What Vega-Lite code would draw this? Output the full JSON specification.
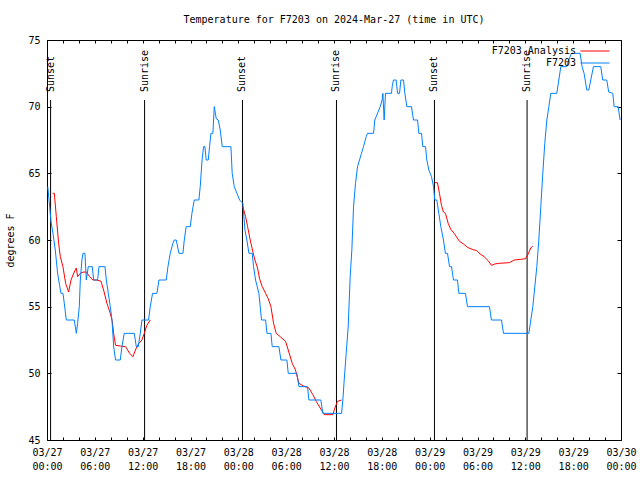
{
  "$schema": "https://vega.github.io/schema/vega-lite/v6.json",
  "width": 574,
  "height": 400,
  "autosize": "none",
  "padding": {"left": 47, "top": 40, "right": 19, "bottom": 40},
  "background": "white",
  "title": {"text": "Temperature for F7203 on 2024-Mar-27 (time in UTC)", "font": "DejaVu Sans Mono", "fontSize": 10, "fontWeight": "normal", "color": "black", "offset": 10, "anchor": "middle"},
  "config": {
    "view": {"stroke": "black", "strokeWidth": 1},
    "axis": {"grid": false, "domainColor": "black", "tickColor": "black", "labelColor": "black", "titleColor": "black", "labelFont": "DejaVu Sans Mono", "labelFontSize": 10, "titleFont": "DejaVu Sans Mono", "titleFontSize": 10, "titleFontWeight": "normal", "tickSize": -3, "labelFlush": false, "labelOverlap": false},
    "legend": {"orient": "none", "legendX": 543, "legendY": 6, "symbolType": "M-6,0H6", "symbolSize": 23.4, "symbolStrokeWidth": 1, "labelAlign": "right", "labelOffset": -24, "labelFont": "DejaVu Sans Mono", "labelFontSize": 10, "labelColor": "black", "rowPadding": 2, "padding": 0}
  },
  "datasets": {
    "temps": [
      {"series": "F7203 Analysis", "seg": 1, "hour": 0.71, "temp": 63.5},
      {"series": "F7203 Analysis", "seg": 1, "hour": 0.92, "temp": 63.5},
      {"series": "F7203 Analysis", "seg": 1, "hour": 1.17, "temp": 61.75},
      {"series": "F7203 Analysis", "seg": 1, "hour": 1.46, "temp": 59.75},
      {"series": "F7203 Analysis", "seg": 1, "hour": 1.67, "temp": 58.75},
      {"series": "F7203 Analysis", "seg": 1, "hour": 2.0, "temp": 58},
      {"series": "F7203 Analysis", "seg": 1, "hour": 2.34, "temp": 56.75},
      {"series": "F7203 Analysis", "seg": 1, "hour": 2.71, "temp": 56.1},
      {"series": "F7203 Analysis", "seg": 1, "hour": 3.01, "temp": 57},
      {"series": "F7203 Analysis", "seg": 1, "hour": 3.42, "temp": 57.6},
      {"series": "F7203 Analysis", "seg": 1, "hour": 3.68, "temp": 57.9},
      {"series": "F7203 Analysis", "seg": 1, "hour": 3.84, "temp": 57.25},
      {"series": "F7203 Analysis", "seg": 1, "hour": 4.18, "temp": 57.5},
      {"series": "F7203 Analysis", "seg": 1, "hour": 4.59, "temp": 57.6},
      {"series": "F7203 Analysis", "seg": 1, "hour": 4.93, "temp": 57.6},
      {"series": "F7203 Analysis", "seg": 1, "hour": 5.35, "temp": 57.25},
      {"series": "F7203 Analysis", "seg": 1, "hour": 5.76, "temp": 57},
      {"series": "F7203 Analysis", "seg": 1, "hour": 6.26, "temp": 57},
      {"series": "F7203 Analysis", "seg": 1, "hour": 6.77, "temp": 56.9},
      {"series": "F7203 Analysis", "seg": 1, "hour": 7.1, "temp": 56.25},
      {"series": "F7203 Analysis", "seg": 1, "hour": 7.52, "temp": 55.25},
      {"series": "F7203 Analysis", "seg": 1, "hour": 7.94, "temp": 54.5},
      {"series": "F7203 Analysis", "seg": 1, "hour": 8.19, "temp": 53.9},
      {"series": "F7203 Analysis", "seg": 1, "hour": 8.36, "temp": 53},
      {"series": "F7203 Analysis", "seg": 1, "hour": 8.6, "temp": 52.1},
      {"series": "F7203 Analysis", "seg": 1, "hour": 9.19, "temp": 52.05},
      {"series": "F7203 Analysis", "seg": 1, "hour": 9.86, "temp": 52},
      {"series": "F7203 Analysis", "seg": 1, "hour": 10.36, "temp": 51.5},
      {"series": "F7203 Analysis", "seg": 1, "hour": 10.78, "temp": 51.25},
      {"series": "F7203 Analysis", "seg": 1, "hour": 11.2, "temp": 51.9},
      {"series": "F7203 Analysis", "seg": 1, "hour": 11.53, "temp": 52.25},
      {"series": "F7203 Analysis", "seg": 1, "hour": 11.91, "temp": 52.5},
      {"series": "F7203 Analysis", "seg": 1, "hour": 12.2, "temp": 53},
      {"series": "F7203 Analysis", "seg": 1, "hour": 12.53, "temp": 53.6},
      {"series": "F7203 Analysis", "seg": 1, "hour": 12.95, "temp": 54},
      {"series": "F7203 Analysis", "seg": 2, "hour": 24.57, "temp": 62.5},
      {"series": "F7203 Analysis", "seg": 2, "hour": 24.91, "temp": 61.75},
      {"series": "F7203 Analysis", "seg": 2, "hour": 25.16, "temp": 61},
      {"series": "F7203 Analysis", "seg": 2, "hour": 25.49, "temp": 60},
      {"series": "F7203 Analysis", "seg": 2, "hour": 25.83, "temp": 59.1},
      {"series": "F7203 Analysis", "seg": 2, "hour": 26.08, "temp": 58.5},
      {"series": "F7203 Analysis", "seg": 2, "hour": 26.41, "temp": 57.9},
      {"series": "F7203 Analysis", "seg": 2, "hour": 26.66, "temp": 57.1},
      {"series": "F7203 Analysis", "seg": 2, "hour": 27.0, "temp": 56.5},
      {"series": "F7203 Analysis", "seg": 2, "hour": 27.42, "temp": 56},
      {"series": "F7203 Analysis", "seg": 2, "hour": 27.75, "temp": 55.6},
      {"series": "F7203 Analysis", "seg": 2, "hour": 28.09, "temp": 55},
      {"series": "F7203 Analysis", "seg": 2, "hour": 28.42, "temp": 53.75},
      {"series": "F7203 Analysis", "seg": 2, "hour": 28.75, "temp": 53},
      {"series": "F7203 Analysis", "seg": 2, "hour": 29.26, "temp": 52.75},
      {"series": "F7203 Analysis", "seg": 2, "hour": 29.92, "temp": 52.4},
      {"series": "F7203 Analysis", "seg": 2, "hour": 30.26, "temp": 51.75},
      {"series": "F7203 Analysis", "seg": 2, "hour": 30.76, "temp": 50.75},
      {"series": "F7203 Analysis", "seg": 2, "hour": 31.17, "temp": 50.25},
      {"series": "F7203 Analysis", "seg": 2, "hour": 31.6, "temp": 49.25},
      {"series": "F7203 Analysis", "seg": 2, "hour": 32.18, "temp": 49.05},
      {"series": "F7203 Analysis", "seg": 2, "hour": 32.85, "temp": 48.9},
      {"series": "F7203 Analysis", "seg": 2, "hour": 33.35, "temp": 48.4},
      {"series": "F7203 Analysis", "seg": 2, "hour": 33.77, "temp": 47.9},
      {"series": "F7203 Analysis", "seg": 2, "hour": 34.27, "temp": 47.4},
      {"series": "F7203 Analysis", "seg": 2, "hour": 34.77, "temp": 46.9},
      {"series": "F7203 Analysis", "seg": 2, "hour": 35.86, "temp": 46.9},
      {"series": "F7203 Analysis", "seg": 2, "hour": 36.11, "temp": 47.4},
      {"series": "F7203 Analysis", "seg": 2, "hour": 36.44, "temp": 47.9},
      {"series": "F7203 Analysis", "seg": 2, "hour": 36.95, "temp": 48},
      {"series": "F7203 Analysis", "seg": 3, "hour": 48.65, "temp": 64.3},
      {"series": "F7203 Analysis", "seg": 3, "hour": 48.98, "temp": 64.3},
      {"series": "F7203 Analysis", "seg": 3, "hour": 49.23, "temp": 63.5},
      {"series": "F7203 Analysis", "seg": 3, "hour": 49.48, "temp": 62.6},
      {"series": "F7203 Analysis", "seg": 3, "hour": 49.73, "temp": 62.1},
      {"series": "F7203 Analysis", "seg": 3, "hour": 49.98, "temp": 62},
      {"series": "F7203 Analysis", "seg": 3, "hour": 50.32, "temp": 61.25},
      {"series": "F7203 Analysis", "seg": 3, "hour": 50.65, "temp": 60.8},
      {"series": "F7203 Analysis", "seg": 3, "hour": 51.07, "temp": 60.5},
      {"series": "F7203 Analysis", "seg": 3, "hour": 51.74, "temp": 59.9},
      {"series": "F7203 Analysis", "seg": 3, "hour": 52.24, "temp": 59.7},
      {"series": "F7203 Analysis", "seg": 3, "hour": 52.74, "temp": 59.45},
      {"series": "F7203 Analysis", "seg": 3, "hour": 53.33, "temp": 59.3},
      {"series": "F7203 Analysis", "seg": 3, "hour": 53.91, "temp": 59.2},
      {"series": "F7203 Analysis", "seg": 3, "hour": 54.33, "temp": 58.95},
      {"series": "F7203 Analysis", "seg": 3, "hour": 54.83, "temp": 58.75},
      {"series": "F7203 Analysis", "seg": 3, "hour": 55.34, "temp": 58.45},
      {"series": "F7203 Analysis", "seg": 3, "hour": 55.75, "temp": 58.1},
      {"series": "F7203 Analysis", "seg": 3, "hour": 56.17, "temp": 58.2},
      {"series": "F7203 Analysis", "seg": 3, "hour": 56.67, "temp": 58.25},
      {"series": "F7203 Analysis", "seg": 3, "hour": 58.01, "temp": 58.3},
      {"series": "F7203 Analysis", "seg": 3, "hour": 58.6, "temp": 58.5},
      {"series": "F7203 Analysis", "seg": 3, "hour": 59.43, "temp": 58.55},
      {"series": "F7203 Analysis", "seg": 3, "hour": 60.02, "temp": 58.6},
      {"series": "F7203 Analysis", "seg": 3, "hour": 60.35, "temp": 58.95},
      {"series": "F7203 Analysis", "seg": 3, "hour": 60.68, "temp": 59.4},
      {"series": "F7203 Analysis", "seg": 3, "hour": 60.93, "temp": 59.55},
      {"series": "F7203", "seg": 0, "hour": 0.1, "temp": 64},
      {"series": "F7203", "seg": 0, "hour": 0.33, "temp": 62.5},
      {"series": "F7203", "seg": 0, "hour": 0.5, "temp": 61.4},
      {"series": "F7203", "seg": 0, "hour": 0.75, "temp": 60.5},
      {"series": "F7203", "seg": 0, "hour": 1.04, "temp": 59.25},
      {"series": "F7203", "seg": 0, "hour": 1.33, "temp": 57.5},
      {"series": "F7203", "seg": 0, "hour": 1.58, "temp": 56.6},
      {"series": "F7203", "seg": 0, "hour": 1.75, "temp": 56},
      {"series": "F7203", "seg": 0, "hour": 2.0, "temp": 56},
      {"series": "F7203", "seg": 0, "hour": 2.17, "temp": 55.25},
      {"series": "F7203", "seg": 0, "hour": 2.42, "temp": 54},
      {"series": "F7203", "seg": 0, "hour": 3.42, "temp": 54},
      {"series": "F7203", "seg": 0, "hour": 3.68, "temp": 53},
      {"series": "F7203", "seg": 0, "hour": 3.84, "temp": 53.75},
      {"series": "F7203", "seg": 0, "hour": 4.05, "temp": 55},
      {"series": "F7203", "seg": 0, "hour": 4.18, "temp": 57},
      {"series": "F7203", "seg": 0, "hour": 4.38, "temp": 58.5},
      {"series": "F7203", "seg": 0, "hour": 4.51, "temp": 59},
      {"series": "F7203", "seg": 0, "hour": 4.76, "temp": 59},
      {"series": "F7203", "seg": 0, "hour": 4.93, "temp": 57},
      {"series": "F7203", "seg": 0, "hour": 5.18, "temp": 58},
      {"series": "F7203", "seg": 0, "hour": 5.68, "temp": 58},
      {"series": "F7203", "seg": 0, "hour": 5.85, "temp": 57},
      {"series": "F7203", "seg": 0, "hour": 6.35, "temp": 57},
      {"series": "F7203", "seg": 0, "hour": 6.52, "temp": 58},
      {"series": "F7203", "seg": 0, "hour": 7.27, "temp": 58},
      {"series": "F7203", "seg": 0, "hour": 7.44, "temp": 57},
      {"series": "F7203", "seg": 0, "hour": 7.69, "temp": 56},
      {"series": "F7203", "seg": 0, "hour": 7.94, "temp": 55},
      {"series": "F7203", "seg": 0, "hour": 8.15, "temp": 54},
      {"series": "F7203", "seg": 0, "hour": 8.36, "temp": 52},
      {"series": "F7203", "seg": 0, "hour": 8.6, "temp": 51},
      {"series": "F7203", "seg": 0, "hour": 9.19, "temp": 51},
      {"series": "F7203", "seg": 0, "hour": 9.4, "temp": 52},
      {"series": "F7203", "seg": 0, "hour": 9.69, "temp": 53},
      {"series": "F7203", "seg": 0, "hour": 10.95, "temp": 53},
      {"series": "F7203", "seg": 0, "hour": 11.2, "temp": 52},
      {"series": "F7203", "seg": 0, "hour": 11.45, "temp": 52},
      {"series": "F7203", "seg": 0, "hour": 11.7, "temp": 53},
      {"series": "F7203", "seg": 0, "hour": 11.91, "temp": 54},
      {"series": "F7203", "seg": 0, "hour": 12.74, "temp": 54},
      {"series": "F7203", "seg": 0, "hour": 12.95, "temp": 55},
      {"series": "F7203", "seg": 0, "hour": 13.24, "temp": 56},
      {"series": "F7203", "seg": 0, "hour": 13.79, "temp": 56},
      {"series": "F7203", "seg": 0, "hour": 14.04, "temp": 57},
      {"series": "F7203", "seg": 0, "hour": 14.96, "temp": 57},
      {"series": "F7203", "seg": 0, "hour": 15.17, "temp": 58},
      {"series": "F7203", "seg": 0, "hour": 15.46, "temp": 59},
      {"series": "F7203", "seg": 0, "hour": 15.79, "temp": 59.75},
      {"series": "F7203", "seg": 0, "hour": 15.96, "temp": 60},
      {"series": "F7203", "seg": 0, "hour": 16.21, "temp": 60},
      {"series": "F7203", "seg": 0, "hour": 16.55, "temp": 59},
      {"series": "F7203", "seg": 0, "hour": 17.05, "temp": 59},
      {"series": "F7203", "seg": 0, "hour": 17.22, "temp": 60},
      {"series": "F7203", "seg": 0, "hour": 17.46, "temp": 61},
      {"series": "F7203", "seg": 0, "hour": 17.97, "temp": 61},
      {"series": "F7203", "seg": 0, "hour": 18.18, "temp": 62},
      {"series": "F7203", "seg": 0, "hour": 18.47, "temp": 63},
      {"series": "F7203", "seg": 0, "hour": 19.05, "temp": 63},
      {"series": "F7203", "seg": 0, "hour": 19.22, "temp": 64},
      {"series": "F7203", "seg": 0, "hour": 19.45, "temp": 66},
      {"series": "F7203", "seg": 0, "hour": 19.64, "temp": 67},
      {"series": "F7203", "seg": 0, "hour": 19.81, "temp": 67},
      {"series": "F7203", "seg": 0, "hour": 19.97, "temp": 66},
      {"series": "F7203", "seg": 0, "hour": 20.23, "temp": 66},
      {"series": "F7203", "seg": 0, "hour": 20.39, "temp": 67},
      {"series": "F7203", "seg": 0, "hour": 20.56, "temp": 68},
      {"series": "F7203", "seg": 0, "hour": 20.81, "temp": 68},
      {"series": "F7203", "seg": 0, "hour": 20.98, "temp": 70},
      {"series": "F7203", "seg": 0, "hour": 21.23, "temp": 69.1},
      {"series": "F7203", "seg": 0, "hour": 21.48, "temp": 69},
      {"series": "F7203", "seg": 0, "hour": 21.73, "temp": 68.25},
      {"series": "F7203", "seg": 0, "hour": 21.98, "temp": 67},
      {"series": "F7203", "seg": 0, "hour": 23.07, "temp": 67},
      {"series": "F7203", "seg": 0, "hour": 23.23, "temp": 65},
      {"series": "F7203", "seg": 0, "hour": 23.49, "temp": 64},
      {"series": "F7203", "seg": 0, "hour": 23.82, "temp": 63.5},
      {"series": "F7203", "seg": 0, "hour": 24.16, "temp": 63},
      {"series": "F7203", "seg": 0, "hour": 24.57, "temp": 62.75},
      {"series": "F7203", "seg": 0, "hour": 24.83, "temp": 60.75},
      {"series": "F7203", "seg": 0, "hour": 25.07, "temp": 60},
      {"series": "F7203", "seg": 0, "hour": 25.33, "temp": 59},
      {"series": "F7203", "seg": 0, "hour": 25.74, "temp": 59},
      {"series": "F7203", "seg": 0, "hour": 25.91, "temp": 58},
      {"series": "F7203", "seg": 0, "hour": 26.16, "temp": 57},
      {"series": "F7203", "seg": 0, "hour": 26.58, "temp": 56},
      {"series": "F7203", "seg": 0, "hour": 26.91, "temp": 54},
      {"series": "F7203", "seg": 0, "hour": 27.42, "temp": 54},
      {"series": "F7203", "seg": 0, "hour": 27.59, "temp": 53},
      {"series": "F7203", "seg": 0, "hour": 28.09, "temp": 53},
      {"series": "F7203", "seg": 0, "hour": 28.25, "temp": 52},
      {"series": "F7203", "seg": 0, "hour": 29.09, "temp": 52},
      {"series": "F7203", "seg": 0, "hour": 29.34, "temp": 51},
      {"series": "F7203", "seg": 0, "hour": 30.09, "temp": 51},
      {"series": "F7203", "seg": 0, "hour": 30.26, "temp": 50},
      {"series": "F7203", "seg": 0, "hour": 31.34, "temp": 50},
      {"series": "F7203", "seg": 0, "hour": 31.6, "temp": 49},
      {"series": "F7203", "seg": 0, "hour": 32.68, "temp": 49},
      {"series": "F7203", "seg": 0, "hour": 32.85, "temp": 48},
      {"series": "F7203", "seg": 0, "hour": 34.35, "temp": 48},
      {"series": "F7203", "seg": 0, "hour": 34.6, "temp": 47},
      {"series": "F7203", "seg": 0, "hour": 36.95, "temp": 47},
      {"series": "F7203", "seg": 0, "hour": 37.11, "temp": 48},
      {"series": "F7203", "seg": 0, "hour": 37.28, "temp": 49.5},
      {"series": "F7203", "seg": 0, "hour": 37.53, "temp": 51.5},
      {"series": "F7203", "seg": 0, "hour": 37.78, "temp": 53.5},
      {"series": "F7203", "seg": 0, "hour": 38.03, "temp": 57.25},
      {"series": "F7203", "seg": 0, "hour": 38.24, "temp": 59.25},
      {"series": "F7203", "seg": 0, "hour": 38.45, "temp": 62.5},
      {"series": "F7203", "seg": 0, "hour": 38.7, "temp": 64.25},
      {"series": "F7203", "seg": 0, "hour": 38.95, "temp": 65.5},
      {"series": "F7203", "seg": 0, "hour": 39.2, "temp": 66},
      {"series": "F7203", "seg": 0, "hour": 39.45, "temp": 66.5},
      {"series": "F7203", "seg": 0, "hour": 39.7, "temp": 67},
      {"series": "F7203", "seg": 0, "hour": 40.04, "temp": 67.75},
      {"series": "F7203", "seg": 0, "hour": 40.2, "temp": 68},
      {"series": "F7203", "seg": 0, "hour": 40.96, "temp": 68},
      {"series": "F7203", "seg": 0, "hour": 41.12, "temp": 69},
      {"series": "F7203", "seg": 0, "hour": 41.79, "temp": 70},
      {"series": "F7203", "seg": 0, "hour": 42.04, "temp": 70.5},
      {"series": "F7203", "seg": 0, "hour": 42.13, "temp": 71},
      {"series": "F7203", "seg": 0, "hour": 42.29, "temp": 69},
      {"series": "F7203", "seg": 0, "hour": 42.46, "temp": 71},
      {"series": "F7203", "seg": 0, "hour": 43.21, "temp": 71},
      {"series": "F7203", "seg": 0, "hour": 43.3, "temp": 71.5},
      {"series": "F7203", "seg": 0, "hour": 43.46, "temp": 72},
      {"series": "F7203", "seg": 0, "hour": 43.8, "temp": 72},
      {"series": "F7203", "seg": 0, "hour": 43.97, "temp": 71},
      {"series": "F7203", "seg": 0, "hour": 44.22, "temp": 71},
      {"series": "F7203", "seg": 0, "hour": 44.39, "temp": 72},
      {"series": "F7203", "seg": 0, "hour": 44.72, "temp": 72},
      {"series": "F7203", "seg": 0, "hour": 44.89, "temp": 71},
      {"series": "F7203", "seg": 0, "hour": 45.14, "temp": 70},
      {"series": "F7203", "seg": 0, "hour": 45.72, "temp": 70},
      {"series": "F7203", "seg": 0, "hour": 45.97, "temp": 69},
      {"series": "F7203", "seg": 0, "hour": 46.48, "temp": 69},
      {"series": "F7203", "seg": 0, "hour": 46.64, "temp": 68},
      {"series": "F7203", "seg": 0, "hour": 46.98, "temp": 68},
      {"series": "F7203", "seg": 0, "hour": 47.14, "temp": 67},
      {"series": "F7203", "seg": 0, "hour": 47.48, "temp": 67},
      {"series": "F7203", "seg": 0, "hour": 47.64, "temp": 66},
      {"series": "F7203", "seg": 0, "hour": 47.9, "temp": 65.25},
      {"series": "F7203", "seg": 0, "hour": 48.23, "temp": 64.75},
      {"series": "F7203", "seg": 0, "hour": 48.48, "temp": 64},
      {"series": "F7203", "seg": 0, "hour": 48.65, "temp": 63},
      {"series": "F7203", "seg": 0, "hour": 48.9, "temp": 63},
      {"series": "F7203", "seg": 0, "hour": 49.15, "temp": 62},
      {"series": "F7203", "seg": 0, "hour": 49.4, "temp": 61},
      {"series": "F7203", "seg": 0, "hour": 49.73, "temp": 60},
      {"series": "F7203", "seg": 0, "hour": 49.98, "temp": 59},
      {"series": "F7203", "seg": 0, "hour": 50.24, "temp": 59},
      {"series": "F7203", "seg": 0, "hour": 50.49, "temp": 58},
      {"series": "F7203", "seg": 0, "hour": 50.74, "temp": 58},
      {"series": "F7203", "seg": 0, "hour": 50.99, "temp": 57},
      {"series": "F7203", "seg": 0, "hour": 51.49, "temp": 57},
      {"series": "F7203", "seg": 0, "hour": 51.66, "temp": 56},
      {"series": "F7203", "seg": 0, "hour": 52.49, "temp": 56},
      {"series": "F7203", "seg": 0, "hour": 52.74, "temp": 55},
      {"series": "F7203", "seg": 0, "hour": 55.5, "temp": 55},
      {"series": "F7203", "seg": 0, "hour": 55.75, "temp": 54},
      {"series": "F7203", "seg": 0, "hour": 57.01, "temp": 54},
      {"series": "F7203", "seg": 0, "hour": 57.26, "temp": 53},
      {"series": "F7203", "seg": 0, "hour": 60.44, "temp": 53},
      {"series": "F7203", "seg": 0, "hour": 60.69, "temp": 54},
      {"series": "F7203", "seg": 0, "hour": 60.94, "temp": 55},
      {"series": "F7203", "seg": 0, "hour": 61.19, "temp": 56.5},
      {"series": "F7203", "seg": 0, "hour": 61.44, "temp": 58},
      {"series": "F7203", "seg": 0, "hour": 61.69, "temp": 60},
      {"series": "F7203", "seg": 0, "hour": 61.94, "temp": 62.5},
      {"series": "F7203", "seg": 0, "hour": 62.19, "temp": 65},
      {"series": "F7203", "seg": 0, "hour": 62.44, "temp": 67.25},
      {"series": "F7203", "seg": 0, "hour": 62.7, "temp": 69},
      {"series": "F7203", "seg": 0, "hour": 62.95, "temp": 70},
      {"series": "F7203", "seg": 0, "hour": 63.19, "temp": 71},
      {"series": "F7203", "seg": 0, "hour": 63.95, "temp": 71},
      {"series": "F7203", "seg": 0, "hour": 64.2, "temp": 72},
      {"series": "F7203", "seg": 0, "hour": 64.45, "temp": 73},
      {"series": "F7203", "seg": 0, "hour": 65.2, "temp": 73},
      {"series": "F7203", "seg": 0, "hour": 65.45, "temp": 73.5},
      {"series": "F7203", "seg": 0, "hour": 65.78, "temp": 74},
      {"series": "F7203", "seg": 0, "hour": 66.87, "temp": 74},
      {"series": "F7203", "seg": 0, "hour": 67.12, "temp": 73},
      {"series": "F7203", "seg": 0, "hour": 67.37, "temp": 72.5},
      {"series": "F7203", "seg": 0, "hour": 67.71, "temp": 71.25},
      {"series": "F7203", "seg": 0, "hour": 67.96, "temp": 71.25},
      {"series": "F7203", "seg": 0, "hour": 68.21, "temp": 72},
      {"series": "F7203", "seg": 0, "hour": 68.54, "temp": 73},
      {"series": "F7203", "seg": 0, "hour": 69.46, "temp": 73},
      {"series": "F7203", "seg": 0, "hour": 69.71, "temp": 72},
      {"series": "F7203", "seg": 0, "hour": 70.21, "temp": 72},
      {"series": "F7203", "seg": 0, "hour": 70.46, "temp": 71.1},
      {"series": "F7203", "seg": 0, "hour": 70.97, "temp": 71},
      {"series": "F7203", "seg": 0, "hour": 71.14, "temp": 70},
      {"series": "F7203", "seg": 0, "hour": 71.64, "temp": 70},
      {"series": "F7203", "seg": 0, "hour": 71.89, "temp": 69}
    ],
    "sun": [
      {"event": "Sunset", "hour": 0.45},
      {"event": "Sunrise", "hour": 12.24},
      {"event": "Sunset", "hour": 24.52},
      {"event": "Sunrise", "hour": 36.31},
      {"event": "Sunset", "hour": 48.6},
      {"event": "Sunrise", "hour": 60.22}
    ]
  },
  "resolve": {"axis": {"x": "independent", "y": "independent"}},
  "layer": [
    {
      "data": {"name": "sun"},
      "mark": {"type": "rule", "color": "black", "strokeWidth": 1},
      "encoding": {
        "x": {"field": "hour", "type": "quantitative", "scale": {"domain": [0, 72], "nice": false, "zero": false},
              "axis": {"orient": "top", "values": [0,2,4,6,8,10,12,14,16,18,20,22,24,26,28,30,32,34,36,38,40,42,44,46,48,50,52,54,56,58,60,62,64,66,68,70,72], "labels": false, "title": null, "domain": false}},
        "y": {"datum": 70.5, "type": "quantitative", "scale": {"domain": [45, 75], "nice": false, "zero": false},
              "axis": {"orient": "right", "values": [45,50,55,60,65,70,75], "labels": false, "title": null, "domain": false, "tickSize": -4}},
        "y2": {"datum": 45}
      }
    },
    {
      "data": {"name": "sun"},
      "mark": {"type": "text", "angle": 270, "align": "left", "baseline": "middle", "font": "DejaVu Sans Mono", "fontSize": 10, "color": "black"},
      "encoding": {
        "x": {"field": "hour", "type": "quantitative", "axis": null},
        "y": {"datum": 71.1, "type": "quantitative", "axis": null},
        "text": {"field": "event"}
      }
    },
    {
      "data": {"name": "temps"},
      "mark": {"type": "line", "strokeWidth": 1, "interpolate": "linear"},
      "encoding": {
        "x": {"field": "hour", "type": "quantitative",
              "axis": {"orient": "bottom", "values": [0,2,4,6,8,10,12,14,16,18,20,22,24,26,28,30,32,34,36,38,40,42,44,46,48,50,52,54,56,58,60,62,64,66,68,70,72], "title": null, "domain": false, "labelPadding": 10, "labelLineHeight": 14, "labelBaseline": "top",
                       "labelExpr": "datum.value % 6 == 0 ? ['03/' + (27 + floor(datum.value / 24)), ((datum.value % 24) < 10 ? '0' : '') + (datum.value % 24) + ':00'] : ''"}},
        "y": {"field": "temp", "type": "quantitative",
              "axis": {"orient": "left", "values": [45,50,55,60,65,70,75], "title": "degrees F", "domain": false, "tickSize": -4, "labelPadding": 11, "titlePadding": 12}},
        "color": {"field": "series", "type": "nominal", "scale": {"domain": ["F7203 Analysis", "F7203"], "range": ["#ff0000", "#0080ff"]}, "legend": {"title": null}},
        "detail": {"field": "seg"}
      }
    }
  ]
}
